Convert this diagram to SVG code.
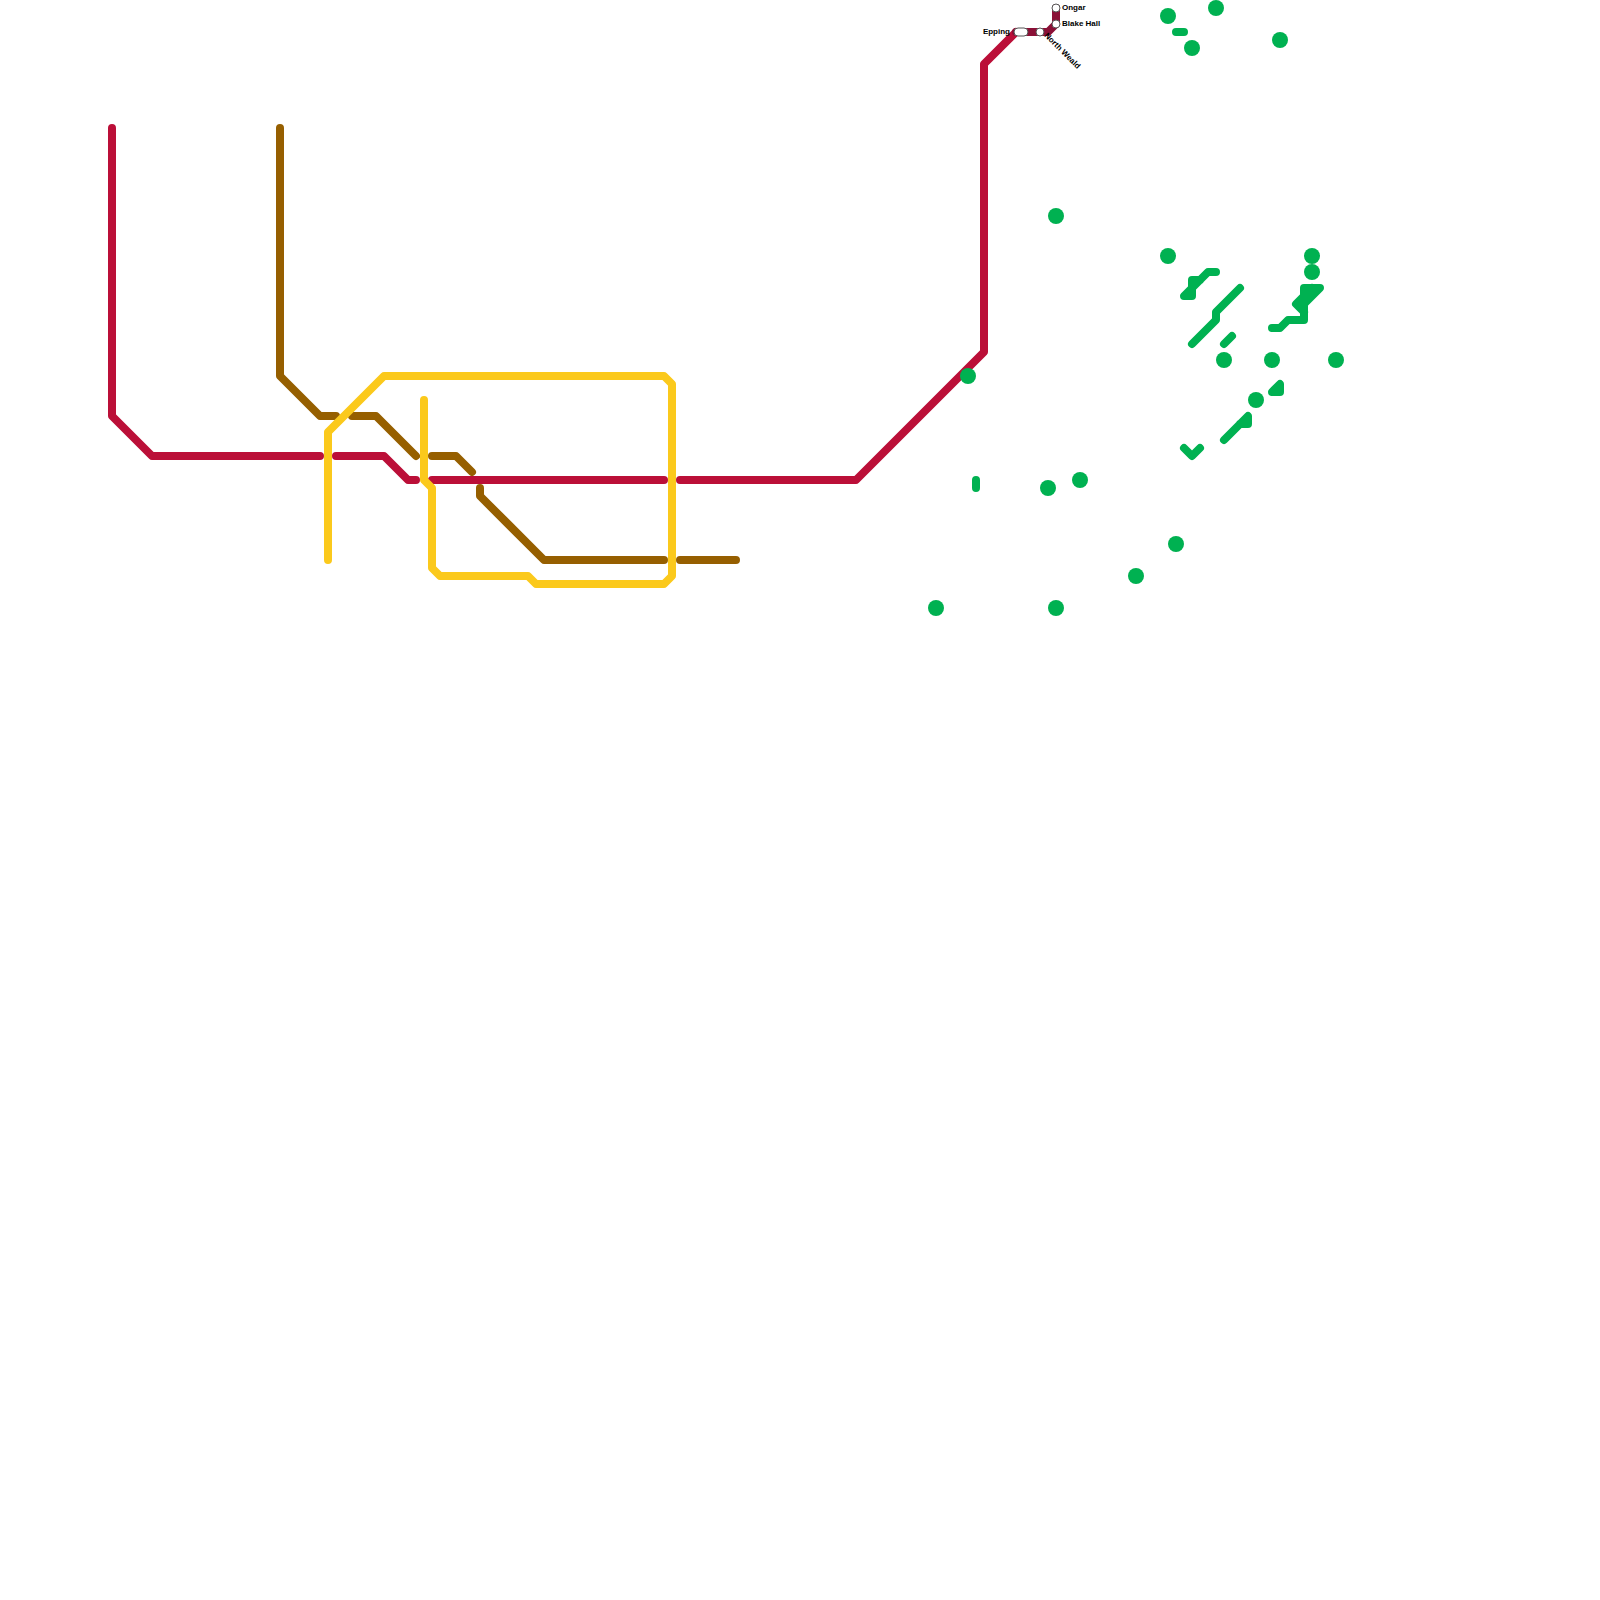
<svg xmlns="http://www.w3.org/2000/svg" width="1600" height="1600" viewBox="0 0 1600 1600">
<style>
.l{fill:none;stroke-width:8;stroke-linecap:round;stroke-linejoin:round}
.r{stroke:#bb0f38}.d{stroke:#8a1036}.b{stroke:#965f00}.y{stroke:#fbc91c}.g{stroke:#00b151}
.dot{fill:#00b151}
.s{fill:#fff;stroke:#555;stroke-width:1}
text{font-family:"Liberation Sans",Arial,sans-serif;font-size:8px;font-weight:700;fill:#000}
</style>
<rect width="1600" height="1600" fill="#fff"/>
<g id="connectors">
<path class="l r" d="M112 128V416L152 456H320M336 456H384L408 480H416M432 480H664M680 480H856L984 352V64L1016 32"/>
<path class="l d" d="M1016 32H1048L1056 24V8"/>
<path class="l b" d="M280 128V376L320 416H336M352 416H376L416 456M432 456H456L472 472M480 488V496L544 560H664M680 560H736"/>
<path class="l y" d="M328 560V432L384 376H664L672 384V576L664 584H536L528 576H440L432 568V488L424 480V400"/>
<path class="l g" d="M1176 32H1184M976 480V488M1216 272H1208L1192 288V280H1200M1192 288V296H1184L1192 288M1240 288L1216 312V320L1192 344M1232 336L1224 344M1224 440L1248 416V424H1240M1272 392L1280 384V392ZM1184 448L1192 456L1200 448"/>
<path class="l g" d="M1272 328H1280L1288 320H1304V288H1320L1304 304M1304 296L1296 304L1304 312M1304 304L1312 296M1304 296L1312 288"/>
</g>
<g id="green-stations">
<circle class="dot" cx="1168" cy="16" r="8"/><circle class="dot" cx="1216" cy="8" r="8"/><circle class="dot" cx="1280" cy="40" r="8"/><circle class="dot" cx="1192" cy="48" r="8"/>
<circle class="dot" cx="1056" cy="216" r="8"/><circle class="dot" cx="1168" cy="256" r="8"/><circle class="dot" cx="1312" cy="256" r="8"/><circle class="dot" cx="1312" cy="272" r="8"/>
<circle class="dot" cx="1224" cy="360" r="8"/><circle class="dot" cx="1272" cy="360" r="8"/><circle class="dot" cx="1336" cy="360" r="8"/><circle class="dot" cx="968" cy="376" r="8"/>
<circle class="dot" cx="1256" cy="400" r="8"/><circle class="dot" cx="1048" cy="488" r="8"/><circle class="dot" cx="1080" cy="480" r="8"/><circle class="dot" cx="1176" cy="544" r="8"/>
<circle class="dot" cx="1136" cy="576" r="8"/><circle class="dot" cx="936" cy="608" r="8"/><circle class="dot" cx="1056" cy="608" r="8"/>
</g>
<g id="epping"><rect class="s" x="1014" y="28" width="14" height="8" rx="4"/><text x="1010" y="34" text-anchor="end">Epping</text></g>
<g id="north-weald"><circle class="s" cx="1040" cy="32" r="4"/><text x="1044" y="36" transform="rotate(45 1044 36)">North Weald</text></g>
<g id="blake-hall"><circle class="s" cx="1056" cy="24" r="4"/><text x="1062" y="26">Blake Hall</text></g>
<g id="ongar"><circle class="s" cx="1056" cy="8" r="4"/><text x="1062" y="10">Ongar</text></g>
</svg>
